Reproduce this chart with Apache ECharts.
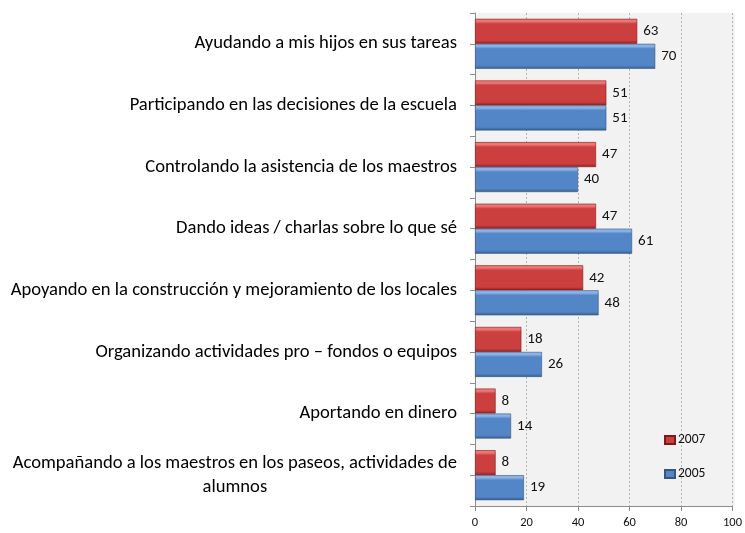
<!DOCTYPE html>
<html>
<head>
<meta charset="utf-8">
<script src="https://cdn.jsdelivr.net/npm/echarts@6/dist/echarts.min.js"></script>
<style>
  html, body { margin: 0; padding: 0; background: #fff; }
  #chart { width: 745px; height: 533px; }
</style>
</head>
<body>
<div id="chart"></div>
<script>
// categorias, de arriba hacia abajo
const categories = [
  'Ayudando a mis hijos en sus tareas',
  'Participando en las decisiones de la escuela',
  'Controlando la asistencia de los maestros',
  'Dando ideas / charlas sobre lo que sé',
  'Apoyando en la construcción y mejoramiento de los locales',
  'Organizando actividades pro – fondos o equipos',
  'Aportando en dinero',
  'Acompañando a los maestros en los paseos, actividades de\nalumnos'
];
const values2007 = [63, 51, 47, 47, 42, 18, 8, 8];
const values2005 = [70, 51, 40, 61, 48, 26, 14, 19];
const xTicks = [0, 20, 40, 60, 80, 100];

const chart = echarts.init(document.getElementById('chart'));

function barGradient(light, mid, dark) {
  return new echarts.graphic.LinearGradient(0, 0, 0, 1, [
    { offset: 0, color: light },
    { offset: 0.1, color: light },
    { offset: 0.2, color: mid },
    { offset: 0.86, color: mid },
    { offset: 1, color: dark }
  ]);
}

const redFill = barGradient('#ee7775', '#cc3f3f', '#8e2323');
const blueFill = barGradient('#8db3e6', '#5386c6', '#3a5f8e');

const font = 'Calibri, Carlito, "Open Sans", sans-serif';

chart.setOption({
  animation: false,
  textStyle: { fontFamily: font },
  grid: { left: 475, right: 10, top: 13, bottom: 27 },
  legend: {
    orient: 'vertical',
    left: 664,
    top: 433,
    padding: 0,
    itemGap: 20,
    itemWidth: 10,
    itemHeight: 8,
    icon: 'rect',
    textStyle: { fontSize: 13.5, color: '#111', padding: [0, 0, 0, -2] },
    data: ['2007', '2005']
  },
  xAxis: {
    type: 'value',
    min: xTicks[0],
    max: xTicks[xTicks.length - 1],
    interval: 20,
    axisLine: { show: true, lineStyle: { color: '#8c8c8c' } },
    axisTick: { show: true, length: 5, lineStyle: { color: '#8c8c8c' } },
    axisLabel: { fontSize: 12.5, color: '#111', margin: 10 },
    splitLine: { show: true, lineStyle: { color: '#b4b4b4', type: [2, 2] } },
    splitArea: { show: false }
  },
  yAxis: [
    {
      type: 'category',
      inverse: true,
      data: categories,
      axisLine: { show: true, lineStyle: { color: '#8c8c8c' } },
      axisTick: { show: true, length: 5, lineStyle: { color: '#8c8c8c' } },
      axisLabel: {
        fontSize: 18.6,
        color: '#000',
        margin: 18,
        lineHeight: 24,
        formatter: v => v.indexOf('\n') >= 0
          ? v.split('\n').map(s => '{c|' + s + '}').join('\n')
          : v,
        rich: { c: { align: 'center', fontSize: 18.6, color: '#000', lineHeight: 24 } }
      }
    },
    {
      type: 'category',
      inverse: true,
      data: categories.flatMap(c => [c, c + ' ']),
      position: 'left',
      axisLine: { show: false },
      axisTick: { show: true, length: 5, lineStyle: { color: '#8c8c8c' } },
      axisLabel: { show: false }
    }
  ],
  graphic: [{
    type: 'rect',
    z: -1,
    shape: { x: 475, y: 13, width: 260, height: 493 },
    style: { fill: '#f2f2f2' }
  }],
  series: [
    {
      name: '2007',
      type: 'bar',
      yAxisIndex: 0,
      data: values2007,
      barWidth: 25,
      barGap: '0%',
      itemStyle: { color: redFill, borderColor: '#7a1c1c', borderWidth: 0.6 },
      label: { show: true, position: 'right', distance: 6, fontSize: 15, color: '#111' }
    },
    {
      name: '2005',
      type: 'bar',
      yAxisIndex: 0,
      data: values2005,
      barWidth: 25,
      barGap: '0%',
      itemStyle: { color: blueFill, borderColor: '#34557f', borderWidth: 0.6 },
      label: { show: true, position: 'right', distance: 6, fontSize: 15, color: '#111' }
    }
  ]
});
</script>
</body>
</html>
